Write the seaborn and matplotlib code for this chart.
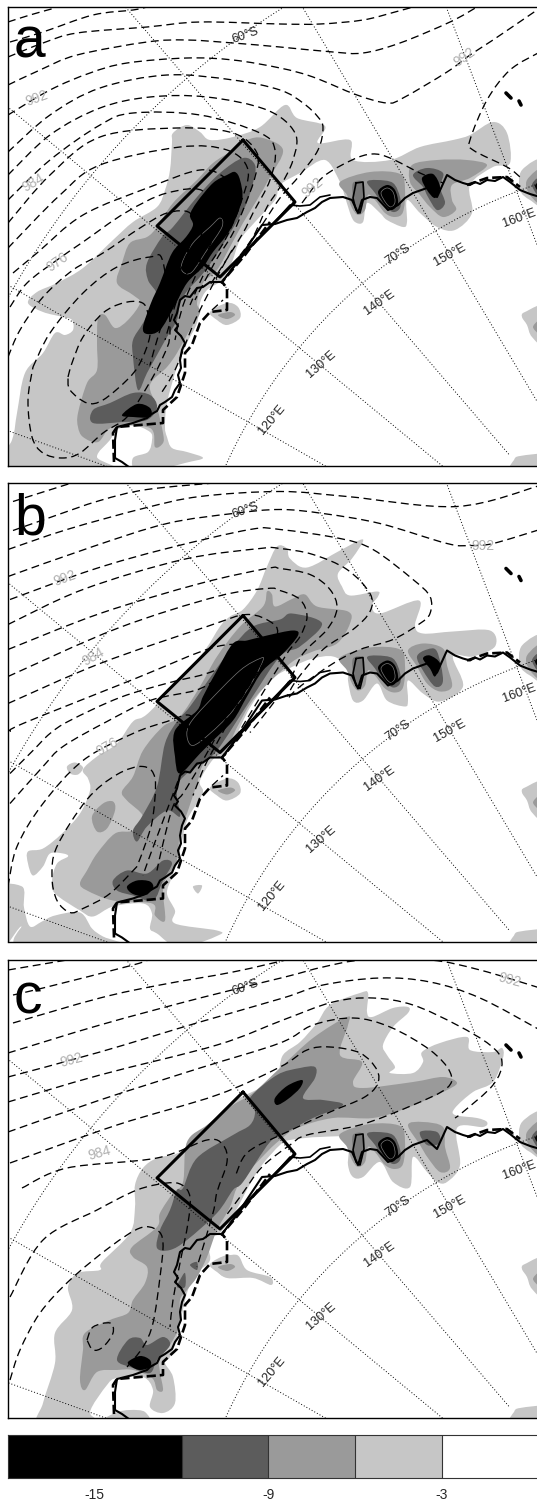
"""Three map panels of a surface field over the East Antarctic coast, with a grey scale bar."""

import matplotlib

matplotlib.use("Agg")

import matplotlib.pyplot as plt
import numpy as np
import seaborn as sns
from matplotlib.colors import BoundaryNorm, ListedColormap
from matplotlib.patches import PathPatch
from matplotlib.path import Path

WIDTH, HEIGHT = 537, 1502

LIGHT = "#c6c6c6"
MID = "#9a9a9a"
DARK = "#5c5c5c"

# graticule
POLE = (704, 682)
MERIDIANS = [110, 120, 130, 140, 150, 160]
PARALLEL_RADII = {60: 795, 70: 525}
GRID_LABELS = [
    ("120°E", 272, 420, 50), ("130°E", 321, 364, 41), ("140°E", 380, 303, 35),
    ("150°E", 450, 255, 29), ("160°E", 519, 218, 20), ("70°S", 398, 255, 35),
    ("60°S", 245, 35, 20),
]

# common outlines, map coordinates
COAST = [(133, 470), (122, 462), (115, 458), (115, 440), (117, 427), (133, 423), (147, 418), (150, 415), (157, 411),
         (160, 405), (165, 402), (172, 397), (175, 390), (180, 383), (178, 375), (181, 368), (180, 360), (182, 350),
         (185, 343), (181, 336), (175, 330), (178, 326), (174, 320), (177, 313), (180, 300), (185, 296), (190, 297),
         (197, 288), (203, 287), (210, 282), (222, 282), (240, 258), (262, 225), (275, 224), (287, 220), (297, 218),
         (307, 212), (315, 208), (322, 202), (330, 198), (343, 197), (352, 200), (358, 213), (362, 200), (370, 197),
         (377, 198), (388, 210), (398, 205), (405, 198), (413, 193), (427, 188), (437, 197), (447, 175), (455, 180),
         (463, 183), (470, 185), (475, 182), (480, 184), (487, 180), (495, 181), (503, 177), (510, 182), (515, 186),
         (520, 190), (530, 194), (540, 197)]
COAST_INNER = [(222, 282), (250, 247), (272, 225), (290, 205), (300, 206), (310, 205), (320, 197), (330, 195)]
COAST_STRIP = [(356, 183), (363, 182), (364, 197), (360, 213), (356, 210), (353, 198), (356, 183)]
COAST_DASHED = [(114, 462), (113, 433), (117, 427), (163, 423), (163, 410), (177, 397), (185, 373), (185, 353),
                (192, 345), (200, 323), (210, 312), (227, 310), (227, 288), (222, 282), (245, 255), (270, 222)]
COAST_DASHED_EAST = [(467, 185), (487, 178), (507, 177), (520, 187)]
ISLANDS = [[(506, 93), (511, 98)], [(519, 101), (521, 105)]]
BOX = [(243, 140), (295, 202), (220, 277), (157, 226), (243, 140)]

EAST_1_MID = [(340, 182), (370, 172), (400, 174), (405, 190), (403, 212), (395, 217), (385, 213), (375, 200),
              (368, 195), (365, 210), (358, 215), (352, 208), (347, 195)]
EAST_1_DARK = [(367, 182), (377, 180), (393, 183), (400, 197), (400, 208), (393, 212), (383, 205), (375, 193)]
EAST_1_STRIP = [(353, 183), (363, 182), (364, 197), (360, 213), (356, 210), (353, 198)]
EAST_1_BLACK = [(378, 192), (387, 185), (395, 190), (398, 203), (392, 210), (385, 205)]
EAST_1_THIN = [(381, 193), (387, 188), (393, 192), (395, 202), (391, 207), (386, 203)]
EDGE_LIGHT = [(520, 190), (522, 170), (545, 160), (545, 205), (530, 200)]
EDGE_MID = [(527, 180), (545, 168), (545, 205), (530, 195)]
EDGE_DARK = [(532, 185), (545, 176), (545, 202)]
EDGE_BLACK = [(535, 186), (545, 180), (545, 197)]
RIGHT_LIGHT = [(522, 317), (525, 312), (548, 306), (548, 348), (532, 337), (527, 325)]
RIGHT_MID = [(533, 327), (548, 316), (548, 338)]
CORNER_LIGHT = [(512, 470), (514, 460), (520, 456), (548, 455), (548, 475)]
SPOT_LIGHT = [(210, 312), (227, 303), (238, 307), (240, 318), (227, 325), (217, 320)]
SPOT_MID = [(218, 315), (230, 312), (235, 315), (227, 319)]

# panel a
A_LIGHT = [(173, 133), (187, 125), (200, 132), (210, 140), (233, 137), (260, 127), (285, 105), (297, 118),
           (325, 126), (318, 143), (350, 140), (353, 160), (390, 160), (420, 147), (453, 140), (470, 135),
           (493, 122), (507, 133), (510, 163), (493, 167), (470, 185), (472, 213), (455, 230), (437, 227),
           (420, 213), (407, 200), (407, 222), (403, 227), (387, 220), (380, 213), (367, 203), (363, 222),
           (355, 222), (350, 213), (343, 190), (340, 182), (325, 160), (300, 173), (280, 185), (275, 200),
           (255, 222), (240, 240), (232, 262), (222, 280), (207, 290), (200, 303), (197, 323), (187, 343),
           (177, 367), (167, 403), (165, 427), (167, 437), (172, 448), (187, 452), (203, 458), (185, 463),
           (150, 472), (135, 472), (133, 458), (148, 452), (152, 440), (150, 432), (133, 425), (117, 430),
           (110, 440), (97, 457), (113, 472), (-5, 480), (12, 440), (17, 413), (25, 373), (43, 353), (55, 333),
           (65, 335), (73, 330), (72, 320), (63, 317), (43, 312), (28, 303), (37, 292), (57, 283), (83, 268),
           (113, 240), (133, 222), (157, 207), (165, 190), (170, 170), (172, 143)]
A_MID = [(263, 138), (283, 150), (270, 177), (257, 200), (243, 223), (230, 247), (217, 270), (203, 283), (197, 303),
         (200, 313), (188, 333), (177, 353), (167, 367), (150, 385), (157, 407), (163, 433), (163, 443), (155, 447),
         (150, 428), (113, 427), (98, 442), (83, 437), (78, 427), (78, 413), (87, 383), (97, 370), (97, 343), (98, 318),
         (105, 315), (115, 328), (128, 320), (140, 303), (133, 295), (117, 283), (122, 263), (130, 243), (147, 237),
         (157, 227), (173, 203), (197, 180), (213, 163), (233, 150), (247, 140)]
A_DARK = [(243, 158), (255, 165), (253, 183), (245, 207), (230, 233), (213, 260), (200, 277), (188, 290), (180, 303),
          (177, 320), (167, 337), (157, 355), (147, 373), (138, 390), (133, 357), (133, 340), (143, 323), (157, 297),
          (148, 280), (147, 263), (162, 237), (173, 227), (197, 197), (220, 173)]
A_DARK_BAY = [(93, 410), (110, 403), (133, 393), (150, 395), (157, 407), (147, 420), (123, 422), (93, 423)]
A_BLACK = [(235, 172), (240, 180), (242, 200), (230, 230), (213, 252), (203, 267), (187, 283), (174, 307), (160, 330),
           (147, 334), (143, 327), (151, 303), (160, 283), (172, 253), (186, 237), (193, 225), (190, 215), (197, 202),
           (213, 183), (227, 175)]
A_BLACK_BAY = [(122, 415), (137, 404), (150, 408), (150, 417), (133, 417)]
A_THIN = [(220, 218), (222, 227), (207, 250), (192, 272), (183, 272), (182, 263), (193, 243), (210, 227)]
A_EAST_MID = [(412, 165), (437, 160), (467, 160), (487, 165), (470, 178), (452, 185), (452, 200), (456, 210),
              (443, 217), (430, 207), (420, 195), (410, 182)]
A_EAST_DARK = [(413, 175), (427, 168), (443, 173), (440, 187), (445, 203), (437, 210), (428, 197), (423, 187)]
A_EAST_BLACK = [(422, 178), (433, 174), (440, 187), (435, 198), (427, 190)]
A_PRESSURE = [
    [(8, 22), (30, 15), (55, 8)],
    [(10, 42), (43, 32), (93, 15), (133, 10), (147, 7)],
    [(8, 57), (43, 43), (77, 33), (147, 27), (200, 22), (280, 24), (320, 24), (363, 20), (395, 12), (413, 7)],
    [(8, 85), (40, 70), (77, 55), (147, 42), (187, 40), (233, 43), (280, 47), (333, 52), (363, 53), (400, 43),
     (450, 22), (477, 7)],
    [(8, 115), (50, 90), (90, 73), (127, 63), (187, 58), (233, 60), (280, 68), (313, 77), (357, 95), (387, 103),
     (403, 98), (447, 72), (470, 55), (493, 40), (540, 8)],
    [(8, 152), (50, 115), (100, 88), (167, 75), (233, 80), (280, 90), (303, 103), (318, 117), (323, 128), (318, 150),
     (300, 175), (280, 198), (262, 225), (245, 250)],
    [(8, 175), (50, 135), (100, 108), (150, 97), (207, 97), (267, 110), (295, 133), (293, 160), (280, 187), (267, 207),
     (253, 237), (235, 262)],
    [(8, 200), (50, 160), (100, 125), (133, 113), (200, 115), (260, 133), (275, 150), (270, 180), (253, 213),
     (243, 233), (225, 262), (210, 285)],
    [(8, 223), (50, 175), (100, 137), (177, 128), (233, 133), (257, 153), (255, 177), (245, 205), (233, 233),
     (215, 262), (195, 300)],
    [(8, 248), (60, 195), (100, 165), (180, 147), (227, 150), (248, 170), (240, 205), (225, 240), (205, 272),
     (190, 305)],
    [(13, 273), (37, 253), (83, 215), (150, 187), (200, 170), (225, 178), (230, 195), (217, 230), (185, 300),
     (175, 340)],
    [(10, 307), (27, 283), (57, 260), (83, 242), (125, 213), (167, 193), (205, 193), (200, 240), (180, 290),
     (165, 340)],
    [(8, 357), (20, 330), (43, 297), (73, 270), (103, 253), (140, 228), (167, 213), (190, 213), (193, 235),
     (175, 285), (160, 330), (150, 365)],
    [(33, 367), (50, 333), (83, 293), (117, 267), (150, 257), (163, 262), (170, 330), (163, 357), (147, 387),
     (127, 417), (103, 433), (80, 453), (62, 458), (43, 453), (32, 437), (28, 400), (33, 367)],
    [(68, 377), (72, 363), (83, 337), (103, 313), (123, 303), (140, 302), (147, 310), (150, 335), (140, 363),
     (127, 380), (103, 400), (87, 403), (70, 390), (68, 377)],
    [(302, 203), (323, 177), (352, 160), (372, 154), (390, 158), (420, 173), (443, 183)],
    [(540, 52), (510, 70), (487, 100), (470, 140), (473, 150), (507, 167), (520, 177)],
    [(232, 250), (218, 275), (205, 300), (193, 325), (175, 370), (160, 395)],
    [(212, 310), (223, 300)],
]
A_LABELS = [("992", 37, 98, 20), ("984", 33, 183, 30), ("976", 58, 262, 35), ("992", 313, 188, 40), ("992", 465, 57, 35)]

# panel b
B_LIGHT = [(267, 91), (277, 71), (287, 73), (290, 83), (307, 92), (340, 75), (363, 64), (352, 83), (338, 98), (342, 111),
           (350, 120), (377, 116), (378, 121), (372, 130), (380, 138), (419, 125), (415, 150), (423, 158), (453, 156),
           (490, 155), (495, 171), (473, 181), (453, 181), (463, 211), (440, 226), (423, 218), (408, 205), (408, 225),
           (405, 231), (387, 225), (377, 208), (363, 225), (353, 225), (348, 205), (348, 191), (333, 181), (313, 183),
           (293, 191), (270, 205), (250, 232), (235, 262), (222, 280), (213, 284), (200, 305), (203, 315), (200, 323),
           (187, 345), (180, 375), (172, 401), (167, 418), (175, 435), (175, 448), (217, 455), (218, 460), (180, 472),
           (157, 458), (150, 453), (152, 438), (143, 428), (113, 431), (93, 441), (80, 435), (55, 418), (52, 405),
           (57, 388), (68, 381), (63, 378), (50, 378), (43, 391), (33, 400), (28, 388), (28, 376), (43, 373), (62, 358),
           (80, 338), (90, 315), (88, 303), (83, 294), (97, 281), (117, 268), (133, 246), (150, 236), (200, 181),
           (220, 151), (230, 141), (243, 134), (257, 115)]
B_LIGHT_SW = [(-5, 416), (22, 411), (24, 432), (30, 451), (42, 446), (55, 440), (80, 437), (92, 453), (103, 461),
              (125, 472), (20, 472), (21, 451), (-5, 480)]
B_LIGHT_SPOTS = [[(67, 291), (75, 287), (83, 292), (78, 299), (70, 298)], [(193, 411), (202, 410), (198, 418)]]
B_MID = [(267, 116), (272, 119), (275, 131), (293, 123), (305, 119), (317, 131), (348, 136), (350, 148), (337, 168),
         (313, 176), (290, 188), (255, 222), (238, 250), (225, 275), (205, 286), (197, 308), (187, 338), (180, 355),
         (177, 385), (167, 401), (163, 415), (165, 445), (155, 440), (152, 428), (113, 425), (87, 415), (80, 408),
         (87, 395), (97, 378), (115, 358), (133, 355), (143, 341), (127, 325), (122, 316), (133, 301), (143, 275),
         (163, 251), (180, 241), (200, 211), (217, 181), (240, 151), (263, 131)]
B_MID_SPOT = [(92, 341), (103, 328), (113, 326), (115, 335), (107, 353), (97, 356)]
B_DARK = [(280, 144), (292, 138), (322, 148), (300, 171), (280, 181), (250, 225), (217, 275), (200, 288), (180, 305),
          (177, 321), (180, 341), (167, 335), (147, 351), (137, 366), (133, 355), (142, 341), (157, 311), (165, 268),
          (177, 246), (190, 231), (213, 198), (233, 171), (253, 151)]
B_DARK_BAY = [(113, 405), (127, 395), (147, 398), (163, 385), (172, 388), (163, 405), (153, 425), (133, 420), (117, 415)]
B_BLACK = [(247, 165), (267, 160), (293, 155), (298, 160), (283, 178), (263, 195), (247, 221), (233, 245), (213, 265),
           (200, 278), (180, 298), (175, 281), (175, 255), (197, 235), (203, 221), (217, 195), (233, 168)]
B_BLACK_BAY = [(127, 411), (137, 405), (150, 406), (153, 413), (143, 420), (132, 418)]
B_THIN = [(260, 183), (263, 185), (253, 205), (233, 235), (210, 258), (193, 270), (187, 261), (190, 248), (207, 228),
          (240, 195)]
B_EAST_MID = [(408, 175), (423, 168), (443, 173), (447, 190), (452, 211), (440, 216), (427, 208), (417, 191)]
B_EAST_DARK = [(417, 181), (427, 174), (437, 176), (443, 205), (435, 211), (423, 195)]
B_EAST_BLACK = [(423, 183), (430, 180), (440, 188), (435, 201), (430, 193)]
B_PRESSURE = [
    [(13, 26), (70, 8)],
    [(13, 55), (50, 42), (100, 25), (147, 14), (220, 7)],
    [(8, 74), (67, 54), (143, 33), (200, 21), (280, 16), (347, 21), (457, 31), (540, 10)],
    [(8, 101), (93, 71), (167, 48), (233, 38), (280, 34), (323, 38), (380, 48), (447, 68), (470, 70), (493, 68), (540, 54)],
    [(10, 124), (93, 94), (167, 73), (250, 54), (280, 54), (340, 63), (373, 74), (413, 104), (430, 121), (430, 138),
     (420, 148), (393, 164), (360, 174), (333, 188), (300, 211), (287, 224)],
    [(8, 149), (83, 114), (183, 84), (260, 73), (280, 73), (313, 79), (347, 94), (370, 118), (370, 136), (353, 154),
     (323, 174), (297, 204), (287, 221)],
    [(8, 174), (100, 138), (200, 108), (267, 93), (280, 93), (310, 99), (330, 114), (337, 133), (327, 154), (303, 178),
     (290, 204), (270, 232), (250, 257)],
    [(8, 201), (117, 153), (217, 121), (267, 113), (280, 115), (300, 124), (307, 141), (300, 161), (287, 178), (260, 222),
     (240, 255), (225, 280)],
    [(8, 228), (100, 188), (207, 151), (247, 139), (273, 148), (277, 161), (265, 185), (240, 225), (220, 262), (205, 290),
     (193, 320)],
    [(10, 256), (23, 248), (133, 204), (217, 171), (253, 175), (250, 200), (225, 245), (200, 290), (183, 318), (173, 331),
     (163, 368), (157, 395)],
    [(10, 298), (33, 275), (50, 258), (70, 245), (120, 222), (170, 207), (200, 200), (215, 195)],
    [(10, 328), (43, 291), (63, 271), (107, 246), (150, 225), (195, 215), (215, 205)],
    [(8, 411), (17, 371), (43, 328), (83, 285), (133, 258), (167, 246), (190, 240), (195, 260), (180, 300), (165, 340),
     (150, 380), (143, 400)],
    [(137, 391), (110, 418), (83, 433), (70, 437), (57, 425), (52, 401), (57, 371), (87, 324), (117, 299), (143, 291),
     (155, 303), (153, 341), (147, 364), (137, 391)],
    [(212, 310), (223, 300)],
]
B_LABELS = [("992", 65, 103, 20), ("984", 93, 181, 30), ("976", 107, 271, 30), ("992", 483, 70, 0)]

# panel c
C_LIGHT = [(360, 41), (368, 41), (367, 60), (372, 65), (393, 56), (408, 55), (408, 61), (393, 75), (383, 93), (387, 103),
           (395, 115), (390, 121), (413, 121), (423, 110), (422, 100), (440, 91), (467, 85), (470, 98), (493, 100),
           (502, 96), (503, 106), (493, 130), (473, 140), (455, 156), (455, 163), (477, 166), (487, 170), (483, 175),
           (457, 176), (460, 213), (447, 230), (437, 230), (427, 220), (413, 205), (410, 235), (393, 230), (380, 210),
           (363, 225), (353, 225), (348, 213), (347, 187), (320, 185), (290, 188), (280, 193), (262, 213), (250, 232),
           (235, 260), (220, 281), (207, 288), (210, 308), (197, 321), (187, 341), (177, 385), (170, 405), (165, 411),
           (173, 425), (175, 451), (163, 461), (150, 455), (153, 438), (143, 425), (117, 426), (107, 433), (90, 460),
           (100, 472), (40, 472), (43, 451), (55, 411), (55, 381), (72, 358), (68, 335), (78, 321), (100, 318), (102, 310),
           (130, 281), (135, 255), (135, 233), (143, 216), (157, 206), (180, 200), (207, 176), (233, 150), (260, 136),
           (277, 123), (283, 103), (300, 90), (317, 71), (330, 53)]
C_LIGHT_BAY = [(100, 472), (115, 461), (130, 458), (145, 460), (147, 472)]
C_SPOT_LIGHT = [(218, 308), (237, 303), (247, 318), (270, 325), (271, 333), (253, 326), (227, 326), (217, 318)]
C_MID = [(347, 65), (348, 73), (340, 103), (362, 110), (353, 130), (363, 136), (413, 130), (443, 125), (457, 131), (443, 140),
         (407, 156), (373, 166), (333, 166), (297, 176), (280, 188), (267, 200), (240, 230), (230, 255), (217, 278), (207, 305),
         (197, 325), (187, 338), (180, 348), (180, 371), (173, 388), (160, 408), (160, 420), (163, 438), (157, 438), (152, 426),
         (133, 418), (117, 418), (97, 420), (85, 438), (80, 428), (83, 398), (85, 381), (110, 368), (128, 361), (133, 348),
         (145, 331), (147, 315), (133, 305), (132, 295), (157, 275), (160, 261), (173, 241), (183, 230), (187, 190), (207, 173),
         (233, 153), (253, 141), (280, 116), (313, 86)]
C_DARK = [(315, 115), (315, 126), (303, 146), (323, 148), (343, 153), (313, 166), (287, 180), (270, 190), (243, 230), (233, 238),
          (217, 261), (187, 288), (170, 298), (157, 296), (160, 278), (170, 258), (177, 238), (183, 236), (197, 206), (233, 183),
          (250, 173), (255, 160), (250, 146), (277, 123), (300, 116)]
C_DARK_BAY = [(117, 408), (128, 388), (140, 386), (147, 393), (163, 385), (170, 393), (157, 408), (150, 421), (133, 416)]
C_DARK_SPOTS = [[(190, 313), (197, 310), (197, 318)], [(180, 328), (185, 321), (185, 335), (177, 335)]]
C_BLACK = [(275, 146), (287, 134), (302, 128), (300, 136), (288, 147), (277, 153)]
C_BLACK_BAY = [(128, 410), (140, 404), (150, 408), (150, 415), (140, 418), (132, 415)]
C_EAST_MID = [(408, 173), (423, 170), (443, 175), (445, 195), (450, 216), (440, 220), (428, 206), (420, 193)]
C_EAST_DARK = [(420, 180), (437, 180), (440, 191), (427, 193)]
C_PRESSURE = [
    [(8, 18), (67, 8)],
    [(13, 43), (43, 36), (133, 13), (150, 7)],
    [(13, 71), (100, 46), (160, 33), (233, 20), (290, 7)],
    [(8, 101), (100, 73), (200, 46), (285, 25), (323, 15), (363, 8), (430, 8), (480, 18), (540, 36)],
    [(8, 125), (100, 100), (200, 70), (283, 46), (323, 33), (380, 26), (430, 30), (480, 46), (540, 78)],
    [(8, 150), (100, 123), (217, 93), (283, 68), (333, 50), (373, 46), (413, 53), (457, 73), (490, 93), (502, 110), (493, 133),
     (463, 160), (455, 166)],
    [(8, 180), (100, 148), (200, 116), (280, 91), (313, 73), (353, 66), (390, 75), (430, 98), (450, 120), (447, 136), (413, 153),
     (360, 173), (307, 183), (290, 193), (262, 215), (240, 245), (225, 265)],
    [(10, 211), (117, 173), (217, 143), (280, 115), (307, 98), (330, 95), (360, 101), (377, 118), (377, 133), (363, 146),
     (330, 160), (287, 180), (248, 200), (235, 225)],
    [(22, 236), (67, 216), (157, 206), (207, 188), (223, 193), (227, 210), (217, 240), (213, 261), (197, 315)],
    [(10, 345), (43, 288), (97, 258), (137, 238), (167, 231), (182, 233), (190, 245), (188, 271), (180, 311), (173, 348), (170, 375)],
    [(10, 428), (20, 398), (40, 361), (70, 328), (110, 295), (140, 276), (157, 278), (163, 291), (160, 325), (153, 371), (143, 395),
     (127, 415)],
    [(87, 388), (93, 375), (110, 371), (113, 381), (103, 395), (93, 398), (87, 388)],
]
C_LABELS = [("992", 72, 108, 15), ("984", 100, 201, 15), ("992", 510, 28, -15)]

# colour bar
BAR_VALUES = [-18, -13.5, -10.5, -7.5, -4.5, -1.5, 1.5]
BAR_LEVELS = [-21, -15, -12, -9, -6, -3, 0, 3]
BAR_COLORS = ["#000000", "#000000", DARK, MID, LIGHT, "#ffffff", "#ffffff"]
BAR_TICKS = [1, 3, 5]
BAR_TICK_LABELS = ["-15", "-9", "-3"]
BAR_SEPARATORS = [2, 3, 4, 5]


def smooth_path(points, closed=False):
    # curve through the traced points
    pts = np.asarray(points, dtype=float)
    n = len(pts)
    verts = [pts[0]]
    codes = [Path.MOVETO]
    for i in range(n if closed else n - 1):
        if closed:
            p0, p1, p2, p3 = pts[i - 1], pts[i], pts[(i + 1) % n], pts[(i + 2) % n]
        else:
            p0, p1, p2, p3 = pts[max(i - 1, 0)], pts[i], pts[i + 1], pts[min(i + 2, n - 1)]
        verts += [p1 + (p2 - p0) / 6, p2 - (p3 - p1) / 6, p2]
        codes += [Path.CURVE4] * 3
    return Path(verts, codes)


def fill_shape(ax, points, color, zorder=1):
    ax.add_patch(PathPatch(smooth_path(points, closed=True), facecolor=color, edgecolor="none", zorder=zorder))


def thin_outline(ax, points):
    ax.add_patch(PathPatch(smooth_path(points, closed=True), fill=False, edgecolor="#777777", linewidth=0.5, zorder=4))


def draw_line(ax, points, **kwargs):
    xs, ys = zip(*points)
    sns.lineplot(x=list(xs), y=list(ys), sort=False, estimator=None, ax=ax, legend=False, **kwargs)


def draw_graticule(ax):
    px, py = POLE
    for lon in MERIDIANS:
        angle = np.radians(60.3 - (lon - 120) * 0.985)
        radii = np.array([300.0, 1100.0])
        draw_line(ax, list(zip(px - radii * np.sin(angle), py - radii * np.cos(angle))),
                  color="black", linewidth=0.7, linestyle=(0, (1, 2.1)), zorder=4)
    for radius in PARALLEL_RADII.values():
        angle = np.radians(np.arange(0, 90, 1.0))
        draw_line(ax, list(zip(px - radius * np.sin(angle), py - radius * np.cos(angle))),
                  color="black", linewidth=0.7, linestyle=(0, (1, 2.1)), zorder=4)
    for label, x, y, rotation in GRID_LABELS:
        ax.text(x, y, label, fontsize=9.2, rotation=rotation, ha="center", va="center", color="#222222", zorder=6)


def draw_common(ax):
    fill_shape(ax, SPOT_LIGHT, LIGHT)
    fill_shape(ax, SPOT_MID, MID, 2)
    fill_shape(ax, EDGE_LIGHT, LIGHT)
    fill_shape(ax, EDGE_MID, MID, 2)
    fill_shape(ax, EDGE_DARK, DARK, 3)
    fill_shape(ax, EDGE_BLACK, "black", 3)
    fill_shape(ax, RIGHT_LIGHT, LIGHT)
    fill_shape(ax, RIGHT_MID, MID, 2)
    fill_shape(ax, CORNER_LIGHT, LIGHT)
    fill_shape(ax, EAST_1_MID, MID, 2)
    fill_shape(ax, EAST_1_DARK, DARK, 3)
    fill_shape(ax, EAST_1_STRIP, "#777777", 3)
    fill_shape(ax, EAST_1_BLACK, "black", 3)
    thin_outline(ax, EAST_1_THIN)


def draw_overlays(ax, pressure, labels):
    for line in pressure:
        ax.add_patch(PathPatch(smooth_path(line), fill=False, edgecolor="black", linewidth=0.95,
                               linestyle=(0, (6, 3.5)), zorder=5))
    for label, x, y, rotation in labels:
        ax.text(x, y, label, fontsize=10, rotation=rotation, ha="center", va="center", color="#b0b0b0", zorder=6)
    draw_line(ax, COAST, color="black", linewidth=1.5, zorder=7)
    draw_line(ax, COAST_INNER, color="black", linewidth=1.2, zorder=7)
    draw_line(ax, COAST_STRIP, color="black", linewidth=1.2, zorder=7)
    draw_line(ax, COAST_DASHED, color="black", linewidth=1.9, linestyle=(0, (3.5, 1.5)), zorder=7)
    draw_line(ax, COAST_DASHED_EAST, color="black", linewidth=1.9, linestyle=(0, (3.5, 1.5)), zorder=7)
    for island in ISLANDS:
        draw_line(ax, island, color="black", linewidth=2.6, zorder=7)
    draw_line(ax, BOX, color="black", linewidth=2.2, zorder=8)


def setup_map(fig, offset):
    top, bottom = 7.5 + offset, 466 + offset
    ax = fig.add_axes([8 / WIDTH, 1 - bottom / HEIGHT, (540 - 8) / WIDTH, (bottom - top) / HEIGHT])
    return ax


def finish_map(ax, letter, baseline):
    ax.set_xlim(8, 540)
    ax.set_ylim(466, 7.5)
    ax.set_xticks([])
    ax.set_yticks([])
    ax.set_xlabel("")
    ax.set_ylabel("")
    for spine in ax.spines.values():
        spine.set_linewidth(1.0)
        spine.set_color("black")
    ax.text(14, baseline, letter, fontsize=41, ha="left", va="baseline", color="black", zorder=9)


def panel_a(ax):
    fill_shape(ax, A_LIGHT, LIGHT)
    fill_shape(ax, A_MID, MID, 2)
    fill_shape(ax, A_EAST_MID, MID, 2)
    draw_common(ax)
    fill_shape(ax, A_DARK, DARK, 3)
    fill_shape(ax, A_DARK_BAY, DARK, 3)
    fill_shape(ax, A_EAST_DARK, DARK, 3)
    fill_shape(ax, A_BLACK, "black", 3)
    fill_shape(ax, A_BLACK_BAY, "black", 3)
    fill_shape(ax, A_EAST_BLACK, "black", 3)
    thin_outline(ax, A_THIN)
    draw_graticule(ax)
    draw_overlays(ax, A_PRESSURE, A_LABELS)
    finish_map(ax, "a", 58)


def panel_b(ax):
    fill_shape(ax, B_LIGHT, LIGHT)
    fill_shape(ax, B_LIGHT_SW, LIGHT)
    for spot in B_LIGHT_SPOTS:
        fill_shape(ax, spot, LIGHT)
    fill_shape(ax, B_MID, MID, 2)
    fill_shape(ax, B_MID_SPOT, MID, 2)
    fill_shape(ax, B_EAST_MID, MID, 2)
    draw_common(ax)
    fill_shape(ax, B_DARK, DARK, 3)
    fill_shape(ax, B_DARK_BAY, DARK, 3)
    fill_shape(ax, B_EAST_DARK, DARK, 3)
    fill_shape(ax, B_BLACK, "black", 3)
    fill_shape(ax, B_BLACK_BAY, "black", 3)
    fill_shape(ax, B_EAST_BLACK, "black", 3)
    thin_outline(ax, B_THIN)
    draw_graticule(ax)
    draw_overlays(ax, B_PRESSURE, B_LABELS)
    finish_map(ax, "b", 59)


def panel_c(ax):
    fill_shape(ax, C_LIGHT, LIGHT)
    fill_shape(ax, C_LIGHT_BAY, LIGHT)
    fill_shape(ax, C_SPOT_LIGHT, LIGHT)
    fill_shape(ax, C_MID, MID, 2)
    fill_shape(ax, C_EAST_MID, MID, 2)
    draw_common(ax)
    fill_shape(ax, C_DARK, DARK, 3)
    fill_shape(ax, C_DARK_BAY, DARK, 3)
    fill_shape(ax, C_EAST_DARK, DARK, 3)
    for spot in C_DARK_SPOTS:
        fill_shape(ax, spot, DARK, 3)
    fill_shape(ax, C_BLACK, "black", 3)
    fill_shape(ax, C_BLACK_BAY, "black", 3)
    draw_graticule(ax)
    draw_overlays(ax, C_PRESSURE, C_LABELS)
    finish_map(ax, "c", 61)


def draw_bar(fig):
    ax = fig.add_axes([8 / WIDTH, 1 - 1478 / HEIGHT, (540 - 8) / WIDTH, 43 / HEIGHT])
    sns.heatmap(
        np.array([BAR_VALUES]),
        cmap=ListedColormap(BAR_COLORS),
        norm=BoundaryNorm(BAR_LEVELS, len(BAR_COLORS)),
        cbar=False,
        linewidths=0,
        xticklabels=False,
        yticklabels=False,
        ax=ax,
    )
    ax.set_xlim(0, 6.13)
    ax.vlines(BAR_SEPARATORS, 0, 1, colors="#333333", linewidth=0.8)
    ax.set_xticks(BAR_TICKS)
    ax.set_xticklabels(BAR_TICK_LABELS, fontsize=10, rotation=0)
    ax.tick_params(axis="x", length=0, pad=7)
    for spine in ax.spines.values():
        spine.set_visible(True)
        spine.set_color("#333333")
        spine.set_linewidth(0.8)


def main():
    sns.set_theme(style="white")
    plt.rcParams["font.family"] = ["Liberation Sans", "DejaVu Sans"]
    fig = plt.figure(figsize=(WIDTH / 100, HEIGHT / 100), dpi=100)
    panel_a(setup_map(fig, 0))
    panel_b(setup_map(fig, 475.5))
    panel_c(setup_map(fig, 952))
    draw_bar(fig)
    fig.savefig("out.png", dpi=100)
    plt.close(fig)


if __name__ == "__main__":
    main()
